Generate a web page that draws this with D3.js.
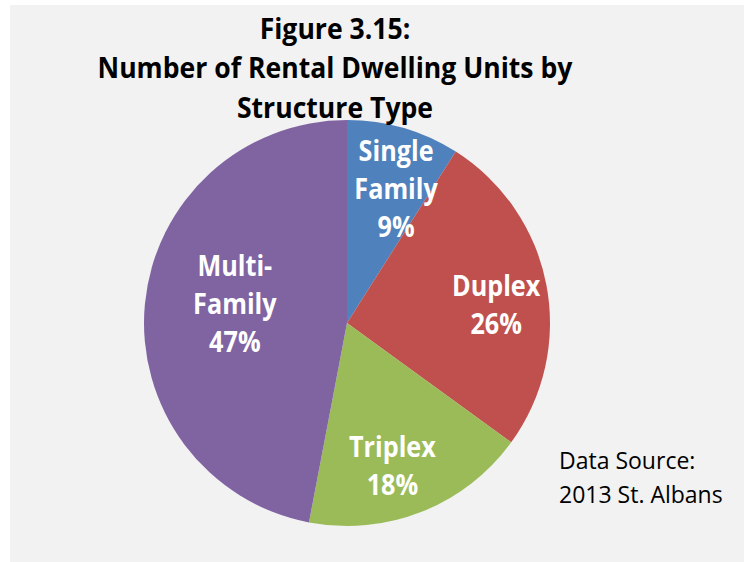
<!DOCTYPE html>
<html>
<head>
<meta charset="utf-8">
<script src="https://cdn.jsdelivr.net/npm/d3@7"></script>
<style>
  body { margin: 0; background: #ffffff; }
  svg { display: block; }
  text { font-family: "Open Sans", "Liberation Sans", sans-serif; }
</style>
</head>
<body>
<svg width="744" height="562"></svg>
<script>
// Chart data
var categories = ['Single Family', 'Duplex', 'Triplex', 'Multi-Family'];
var shares = [9, 26, 18, 47];
var colors = ['#4f81bd', '#c0504d', '#9bbb59', '#8064a2'];
// label text broken into lines like in the original
var labelLines = [['Single', 'Family'], ['Duplex'], ['Triplex'], ['Multi-', 'Family']];
var titleLines = ['Figure 3.15:', 'Number of Rental Dwelling Units by', 'Structure Type'];
var sourceLines = ['Data Source:', '2013 St. Albans'];

var svg = d3.select('svg');
var svgWidth = +svg.attr('width');
var svgHeight = +svg.attr('height');

// squeeze a text horizontally around x (fonts here are wider than Calibri)
function squeeze(x, k) {
    return 'translate(' + x + ',0) scale(' + k + ',1) translate(' + (-x) + ',0)';
}

// gray chart area
svg.append('rect')
    .attr('x', 10)
    .attr('y', 5)
    .attr('width', svgWidth - 10)
    .attr('height', svgHeight - 5)
    .attr('fill', '#f2f2f2');

var radius = 203;
var center = {x: 347, y: 323};

var pieG = svg.append('g')
    .attr('transform', 'translate(' + [center.x, center.y] + ')');

var pie = d3.pie().sort(null).value(d => d);
var arcs = pie(shares);

var arc = d3.arc().innerRadius(0).outerRadius(radius);

pieG.selectAll('.slice')
    .data(arcs)
    .enter().append('path')
    .attr('class', 'slice')
    .attr('d', arc)
    .attr('fill', (d, i) => colors[i]);

// labels - Excel "best fit": slightly past the mid angle, big slice pulled inward
function labelPos(d) {
    var a = (d.startAngle + d.endAngle) / 2 + 0.07;
    var k = d.value > 40 ? 0.56 : (d.value < 10 ? 0.70 : 0.74);
    var r = k * radius;
    return [Math.sin(a) * r, -Math.cos(a) * r];
}

var lineH = 38;
arcs.forEach(function(d, i) {
    var lines = labelLines[i].concat([shares[i] + '%']);
    var p = labelPos(d);
    var y0 = p[1] - (lines.length - 1) * lineH / 2;
    var t = pieG.append('text')
        .attr('text-anchor', 'middle')
        .attr('font-size', 28)
        .attr('font-weight', 'bold')
        .attr('fill', '#fff')
        .attr('transform', squeeze(p[0], 0.9));
    lines.forEach(function(l, j) {
        t.append('tspan')
            .attr('x', p[0])
            .attr('y', y0 + j * lineH)
            .attr('dy', '0.35em')
            .text(l);
    });
});

// title (drawn after the pie, it touches the pie top)
var titleX = 335;
svg.append('g')
    .selectAll('text')
    .data(titleLines)
    .enter().append('text')
    .attr('x', titleX)
    .attr('y', (d, i) => 39 + i * 39.5)
    .attr('text-anchor', 'middle')
    .attr('font-size', 28)
    .attr('font-weight', 'bold')
    .attr('fill', '#000')
    .attr('transform', squeeze(titleX, 0.95))
    .text(d => d);

// data source note
svg.append('g')
    .selectAll('text')
    .data(sourceLines)
    .enter().append('text')
    .attr('x', 559)
    .attr('y', (d, i) => 469 + i * 33.5)
    .attr('font-size', 23)
    .attr('fill', '#000')
    .text(d => d);
</script>
</body>
</html>
